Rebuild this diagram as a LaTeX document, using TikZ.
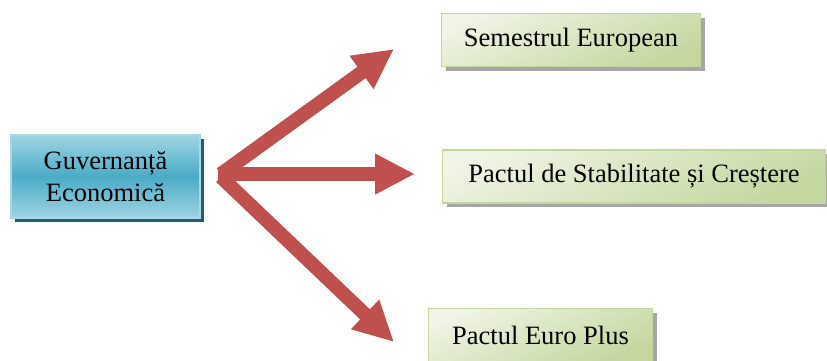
\documentclass[tikz,border=0pt]{standalone}
\usepackage{fontspec}
\setmainfont{Liberation Serif}
\usetikzlibrary{positioning,shadows,arrows.meta}

\definecolor{govblue}{HTML}{4BACC6}
\definecolor{govlight}{HTML}{9FD4E3}
\definecolor{govedge}{HTML}{A8D8E6}
\definecolor{govshadow}{HTML}{215F70}
\definecolor{pactlight}{HTML}{EFF4E4}
\definecolor{pactgreen}{HTML}{C4D79F}
\definecolor{pactedge}{HTML}{C3D69B}
\definecolor{arrowred}{HTML}{C0504D}

\begin{document}
\begin{tikzpicture}[x=1pt,y=-1pt,
						gov/.style={rectangle,draw=govedge,line width=1.5pt,top color=govlight,bottom color=govlight,middle color=govblue,
							drop shadow={shadow xshift=4pt,shadow yshift=-4pt,fill=govshadow,opacity=1},
							align=center,font=\fontsize{26.5}{32}\selectfont,inner sep=0pt},
						pact/.style={rectangle,draw=pactedge,line width=1.5pt,top color=pactlight,bottom color=pactgreen,shading angle=25,
							drop shadow={shadow xshift=4pt,shadow yshift=-4pt,fill=black!35,opacity=1},
							minimum height=53pt,font=\fontsize{26.5}{32}\selectfont,inner sep=0pt},
						bigarrow/.style={draw=arrowred,line width=14pt,-{Triangle[length=40pt,width=38pt]}}]
		\useasboundingbox (0,0) rectangle (827,360);
		\node[gov,minimum width=189pt,minimum height=83pt]										(gov)	at (105.5,176.5)	{Guvernanță\\Economică};
		\node[pact,minimum width=259pt,node distance=240pt,right=of gov,yshift=136.5pt]		(sem)	{Semestrul European};
		\node[pact,minimum width=383pt,node distance=241pt,right=of gov]						(psc)	{Pactul de Stabilitate și Creștere};
		\node[pact,minimum width=224pt,node distance=227pt,right=of gov,yshift=-158.5pt]	(epp)	{Pactul Euro Plus};

		\coordinate (hub)	at (221,174);
		\coordinate (tip1)	at (394,49);
		\coordinate (tip2)	at (415,174);
		\coordinate (tip3)	at (394,342);

		\draw[bigarrow] (hub) -- (tip1);
		\draw[bigarrow] ([xshift=-3pt]hub) -- (tip2);
		\draw[bigarrow] ([yshift=-3pt]hub) -- (tip3);
	\end{tikzpicture}
\end{document}
